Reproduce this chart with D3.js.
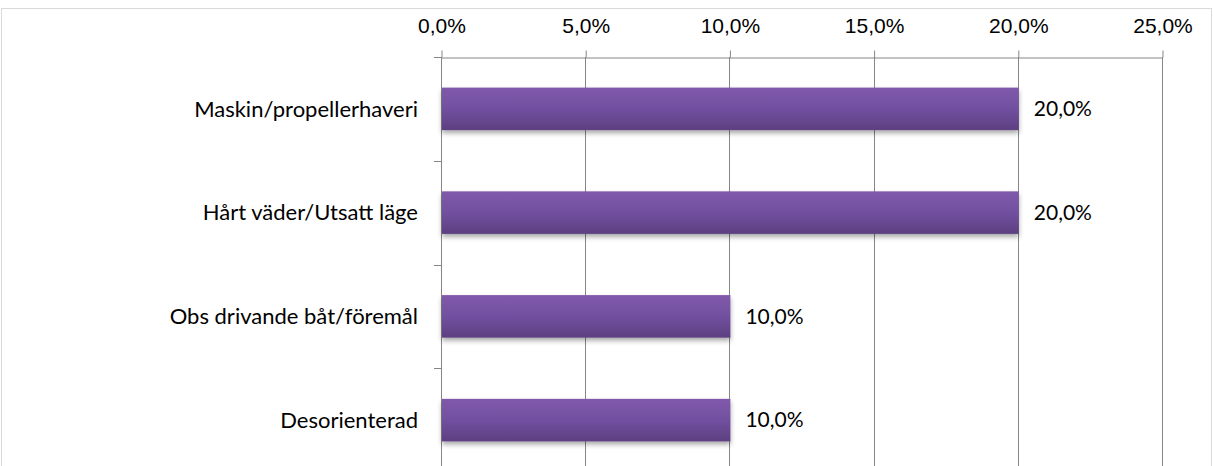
<!DOCTYPE html>
<html>
<head>
<meta charset="utf-8">
<script src="https://cdn.jsdelivr.net/npm/d3@7"></script>
<style>
  body { margin: 0; background: #fff; }
  svg { display: block; font-family: Lato, "Open Sans", sans-serif; }
</style>
</head>
<body>
<div id="chart"></div>
<script>
const categories = ['Maskin/propellerhaveri', 'Hårt väder/Utsatt läge', 'Obs drivande båt/föremål', 'Desorienterad'];
const values = [0.20, 0.20, 0.10, 0.10];
const xTicks = [0, 0.05, 0.10, 0.15, 0.20, 0.25];

const width = 1213, height = 466;
const margin = { left: 441, top: 57, right: 51, bottom: -6 };
const fmt = v => d3.format('.1f')(v * 100).replace('.', ',') + '%';

const svg = d3.select('#chart').append('svg')
    .attr('width', width)
    .attr('height', height);

const defs = svg.append('defs');
const grad = defs.append('linearGradient')
    .attr('id', 'barGrad').attr('x1', 0).attr('y1', 0).attr('x2', 0).attr('y2', 1);
grad.append('stop').attr('offset', '0%').attr('stop-color', '#8159ab');
grad.append('stop').attr('offset', '50%').attr('stop-color', '#7150a0');
grad.append('stop').attr('offset', '100%').attr('stop-color', '#5d3f80');
const shadow = defs.append('filter').attr('id', 'shadow')
    .attr('x', '-5%').attr('y', '-20%').attr('width', '110%').attr('height', '160%');
shadow.append('feDropShadow')
    .attr('dx', 0).attr('dy', 3).attr('stdDeviation', 2.5)
    .attr('flood-color', '#000').attr('flood-opacity', 0.35);

// outer frame
svg.append('rect')
    .attr('x', 1.5).attr('y', 8.5)
    .attr('width', width - 3).attr('height', height)
    .attr('fill', 'none').attr('stroke', '#d9d9d9');

const x = d3.scaleLinear().domain([0, 0.25]).range([margin.left, width - margin.right]);
const y = d3.scaleBand().domain(categories)
    .range([margin.top, height - margin.bottom])
    .paddingInner(0.59).paddingOuter(0.295);

// vertical gridlines
svg.append('g').selectAll('line').data(xTicks).enter()
    .append('line')
    .attr('x1', d => Math.round(x(d)) + 0.5).attr('x2', d => Math.round(x(d)) + 0.5)
    .attr('y1', margin.top).attr('y2', height)
    .attr('stroke', '#868686').attr('stroke-width', 1);

// top axis
const xAxis = svg.append('g')
    .attr('transform', `translate(0.5,${margin.top + 0.5})`)
    .call(d3.axisTop(x).tickValues(xTicks).tickFormat(fmt).tickSize(7).tickSizeOuter(0).tickPadding(18));
xAxis.select('.domain').attr('stroke', '#868686');
xAxis.selectAll('line').attr('stroke', '#868686');
xAxis.selectAll('text').attr('font-size', 21).attr('fill', '#000').attr('font-family', null);

// category boundary ticks on y axis
const step = y.step();
const bounds = d3.range(categories.length).map(i => margin.top + i * step);
svg.append('g').selectAll('line').data(bounds).enter()
    .append('line')
    .attr('x1', margin.left - 7).attr('x2', margin.left)
    .attr('y1', d => Math.round(d) + 0.5).attr('y2', d => Math.round(d) + 0.5)
    .attr('stroke', '#868686');

// bars
svg.append('g').selectAll('rect').data(values).enter()
    .append('rect')
    .attr('x', x(0) + 1)
    .attr('y', (d, i) => y(categories[i]))
    .attr('width', d => x(d) - x(0))
    .attr('height', y.bandwidth())
    .attr('fill', 'url(#barGrad)')
    .attr('filter', 'url(#shadow)');

// category labels
svg.append('g').selectAll('text').data(categories).enter()
    .append('text')
    .attr('x', margin.left - 23)
    .attr('y', d => y(d) + y.bandwidth() / 2)
    .attr('dy', '0.35em')
    .attr('text-anchor', 'end')
    .attr('font-size', 22)
    .text(d => d);

// value labels
svg.append('g').selectAll('text').data(values).enter()
    .append('text')
    .attr('x', d => x(d) + 16)
    .attr('y', (d, i) => y(categories[i]) + y.bandwidth() / 2)
    .attr('dy', '0.35em')
    .attr('font-size', 21)
    .text(d => fmt(d));
</script>
</body>
</html>
